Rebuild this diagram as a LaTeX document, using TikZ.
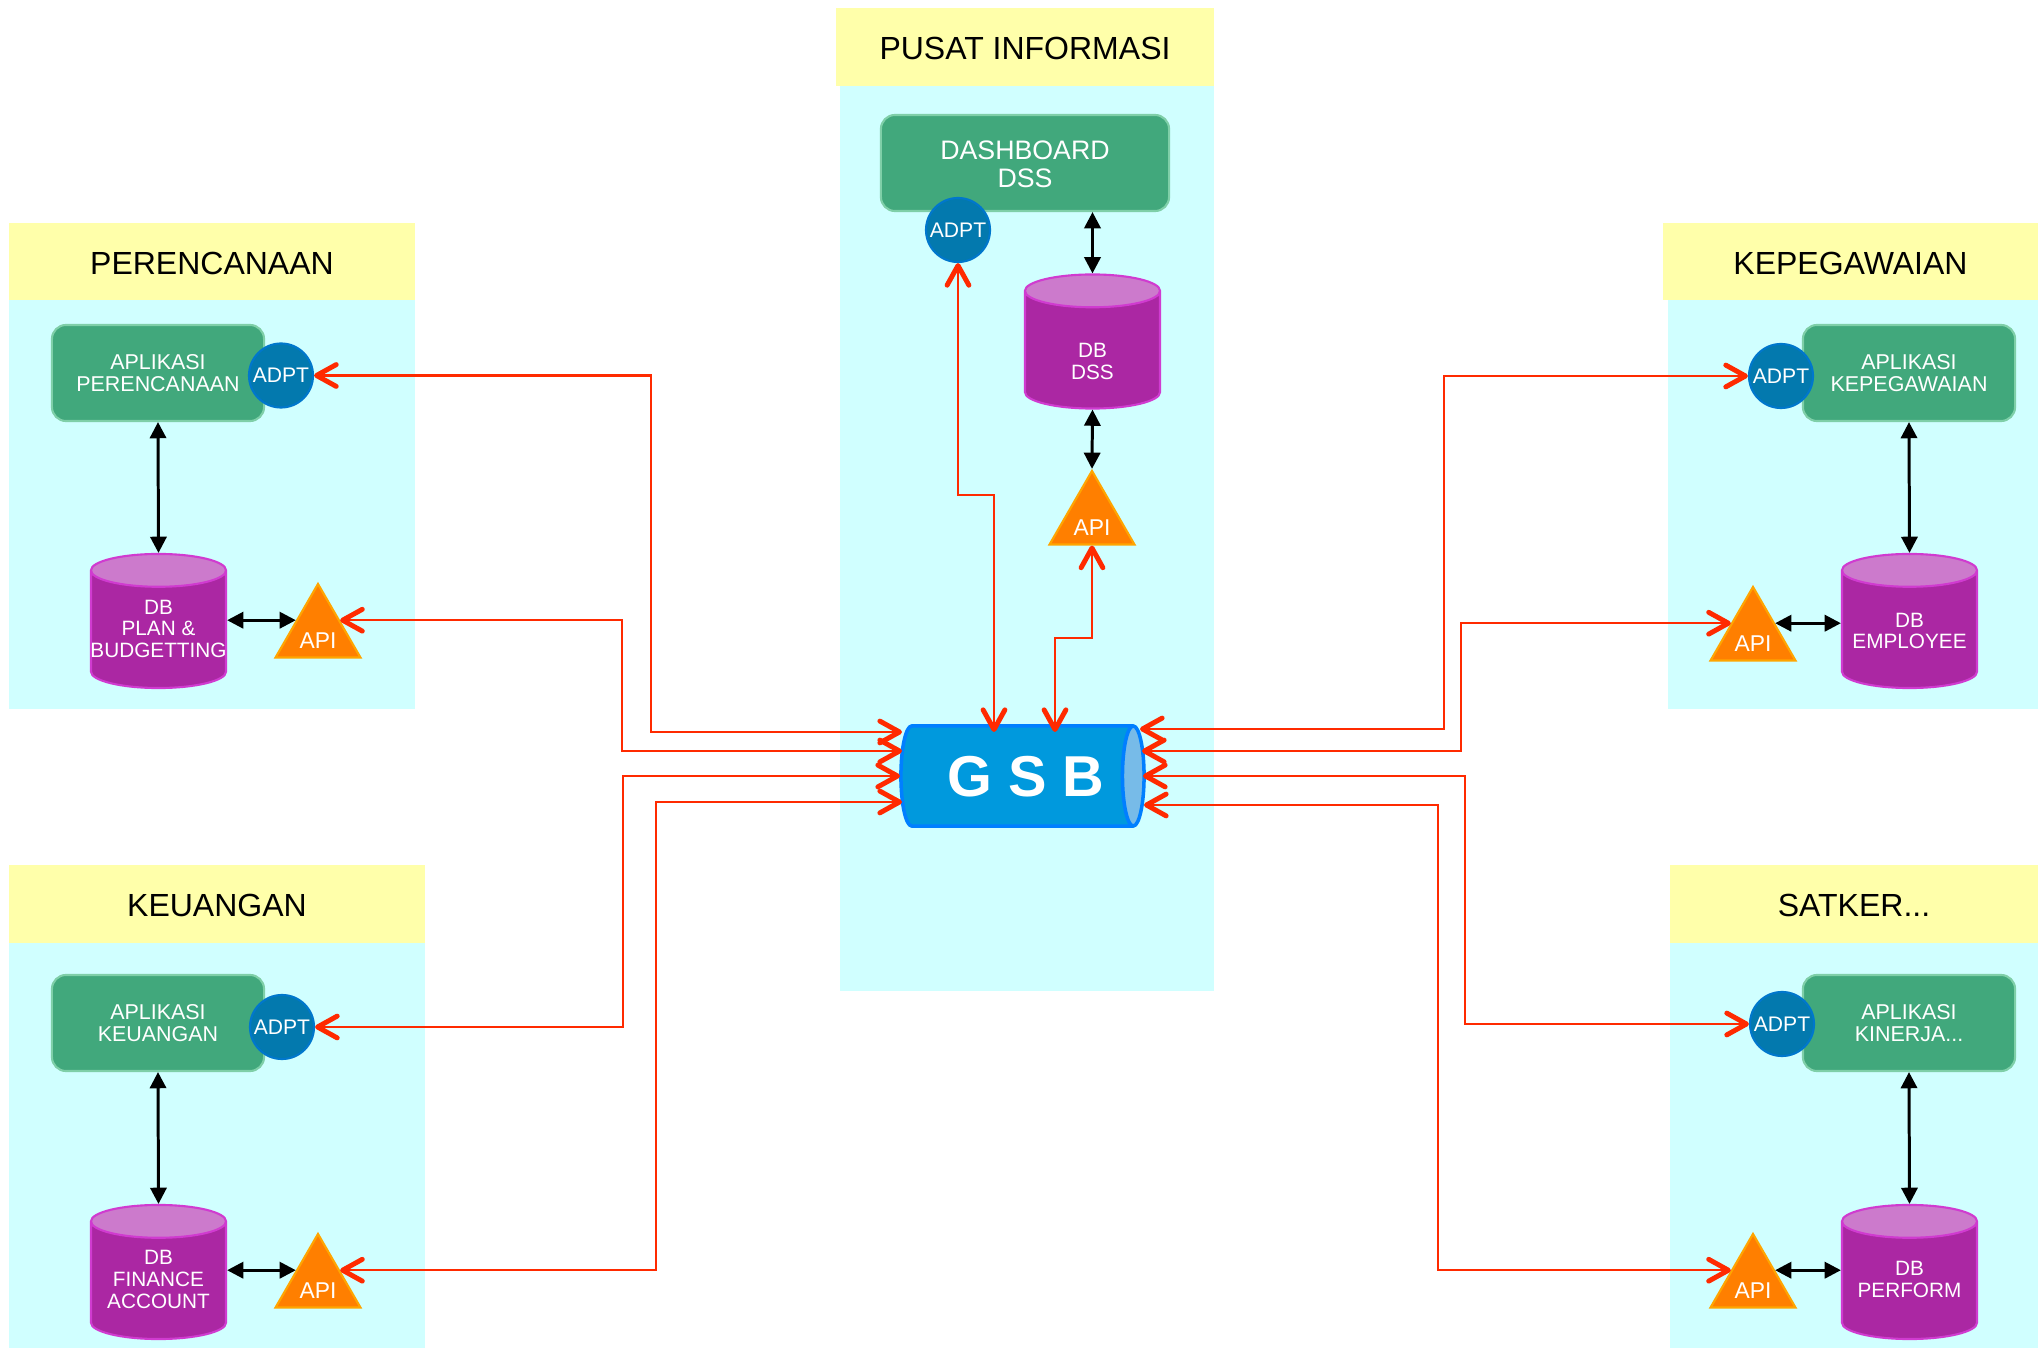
\documentclass[tikz,border=0pt]{standalone}
\usepackage{fontspec}
\setmainfont{Liberation Sans}
\usetikzlibrary{arrows.meta,shapes.geometric}
\definecolor{panelcyan}{HTML}{D0FFFF}
\definecolor{titleyellow}{HTML}{FFFFAA}
\definecolor{appgreen}{HTML}{41A87C}
\definecolor{appline}{HTML}{7FCFA8}
\definecolor{dbpurple}{HTML}{AB27A3}
\definecolor{dbline}{HTML}{D03BD0}
\definecolor{dbtop}{HTML}{CC7ACC}
\definecolor{adptblue}{HTML}{0379AE}
\definecolor{adptline}{HTML}{0077CC}
\definecolor{apiorange}{HTML}{FF7F00}
\definecolor{apiline}{HTML}{FFA500}
\definecolor{gsbblue}{HTML}{0099DD}
\definecolor{gsbline}{HTML}{007FFF}
\definecolor{gsbtop}{HTML}{77BBE8}
\definecolor{flowred}{HTML}{FF2A00}
\newcommand{\apilabel}{\makebox[0pt]{\raisebox{-4.35pt}[0pt][0pt]{API}}}
% the cylinder takes its radii from the box of its text, so every box is the same
\newcommand{\dblabel}[2]{\makebox[1.35cm]{\raisebox{#1}[0pt][0pt]{\begin{tabular}{@{}c@{}}#2\end{tabular}}}}
\tikzset{
	panel/.style={fill=panelcyan},
	titlebox/.style={fill=titleyellow,minimum height=0.77cm,inner sep=0pt,text height=7.3pt,text depth=0pt,font=\fontsize{9.1}{10}\selectfont},
	appbox/.style={draw=appline,line width=0.6pt,fill=appgreen,rounded corners=4pt,minimum width=2.12cm,minimum height=0.96cm,inner sep=0pt,align=center,text=white,font=\fontsize{6.1}{6.2}\selectfont},
	dbbox/.style={shape=cylinder,shape border rotate=90,shape aspect=0.243,anchor=shape center,draw=dbline,line width=0.6pt,cylinder uses custom fill,cylinder body fill=dbpurple,cylinder end fill=dbtop,minimum width=1.35cm,minimum height=1.34cm,inner sep=0pt,text=white,font=\fontsize{5.9}{6.2}\selectfont},
	adptbox/.style={shape=circle,draw=adptline,line width=0.6pt,fill=adptblue,minimum size=0.64cm,inner sep=0pt,text=white,font=\fontsize{6}{7}\selectfont},
	apibox/.style={shape=regular polygon,regular polygon sides=3,draw=apiline,line width=0.6pt,fill=apiorange,minimum size=0.98cm,inner sep=0pt,text=white,font=\fontsize{6.5}{7}\selectfont},
	gsbbox/.style={shape=cylinder,shape aspect=0.216,anchor=shape center,draw=gsbline,line width=1pt,cylinder uses custom fill,cylinder body fill=gsbblue,cylinder end fill=gsbtop,minimum width=1cm,minimum height=2.43cm,inner sep=0pt,text=white,font=\fontsize{16.4}{18}\bfseries\selectfont},
	link/.style={line width=0.85pt,{Triangle[length=4.6pt,width=4.6pt]}-{Triangle[length=4.6pt,width=4.6pt]}},
	flow/.style={draw=flowred,line width=0.7pt,{Straight Barb[length=5.6pt,width=6.2pt,line width=1.4pt,round]}-{Straight Barb[length=5.6pt,width=6.2pt,line width=1.4pt,round]}}
}
\begin{document}
\begin{tikzpicture}[x=0.01cm,y=-0.01cm]
	\useasboundingbox (0,0) rectangle (2038,1349);
	% panels
	\fill[panel] (9,299) rectangle (415,709);
	\fill[panel] (9,942) rectangle (425,1348);
	\fill[panel] (840,85) rectangle (1214,991);
	\fill[panel] (1668,299) rectangle (2038,709);
	\fill[panel] (1670,942) rectangle (2038,1348);
	\node[titlebox,minimum width=4.06cm] (titleplan) at (212,261.5) {PERENCANAAN};
	\node[titlebox,minimum width=4.16cm] (titlekeu) at (217,904) {KEUANGAN};
	\node[titlebox,minimum width=3.78cm] (titledss) at (1025,47) {PUSAT INFORMASI};
	\node[titlebox,minimum width=3.75cm] (titlepeg) at (1850.5,261.5) {KEPEGAWAIAN};
	\node[titlebox,minimum width=3.68cm] (titlesat) at (1854,904) {SATKER...};
	% applications
	\node[appbox] (appplan) at (158,373) {APLIKASI\\PERENCANAAN};
	\node[appbox] (appkeu) at (158,1023) {APLIKASI\\KEUANGAN};
	\node[appbox,minimum width=2.88cm,minimum height=0.96cm,font=\fontsize{7.6}{8}\selectfont] (appdss) at (1025,163) {\rule{0pt}{6.2pt}DASHBOARD\\DSS};
	\node[appbox] (apppeg) at (1909,373) {APLIKASI\\KEPEGAWAIAN};
	\node[appbox] (appsat) at (1909,1023) {APLIKASI\\KINERJA...};
	% databases
	\node[dbbox] (dbplan) at (158.5,621) {\dblabel{-2pt}{DB\\PLAN \&\\BUDGETTING}};
	\node[dbbox] (dbkeu) at (158.5,1272) {\dblabel{-1.85pt}{DB\\FINANCE\\ACCOUNT}};
	\node[dbbox] (dbdss) at (1092.5,341.5) {\dblabel{-5.4pt}{DB\\DSS}};
	\node[dbbox] (dbpeg) at (1909.5,621) {\dblabel{-2.6pt}{DB\\EMPLOYEE}};
	\node[dbbox] (dbsat) at (1909.5,1272) {\dblabel{-2pt}{DB\\PERFORM}};
	% adapters and apis
	\node[adptbox] (adptplan) at (281,375.5) {ADPT};
	\node[adptbox] (adptkeu) at (282,1027) {ADPT};
	\node[adptbox] (adptdss) at (958,230) {ADPT};
	\node[adptbox] (adptpeg) at (1781,376) {ADPT};
	\node[adptbox] (adptsat) at (1782,1024) {ADPT};
	\node[apibox] (apiplan) at (318,633) {\apilabel};
	\node[apibox] (apikeu) at (318,1283) {\apilabel};
	\node[apibox] (apidss) at (1092,520) {\apilabel};
	\node[apibox] (apipeg) at (1753,636) {\apilabel};
	\node[apibox] (apisat) at (1753,1283) {\apilabel};
	% bus
	\node[gsbbox] (gsb) at (1022.5,776) {\hspace*{5.6pt}\raisebox{-5.8pt}[0.5cm][0.5cm]{G S B}};
	\coordinate (gsbw1) at (902,732);
	\coordinate (gsbw2) at (902,751);
	\coordinate (gsbw3) at (900,776);
	\coordinate (gsbw4) at (902,802);
	\coordinate (gsbn1) at (994,732);
	\coordinate (gsbn2) at (1055,732);
	\coordinate (gsbe1) at (1140,729);
	\coordinate (gsbe2) at (1142,751);
	\coordinate (gsbe3) at (1143,776);
	\coordinate (gsbe4) at (1144,805);
	% black links
	\foreach \i in {plan,keu,peg,sat}
	{
		\draw[link] (app\i.south) -- (db\i.north);
	}
	\draw[link] (dbplan.east |- apiplan.side 1) -- (apiplan.side 1);
	\draw[link] (dbkeu.east |- apikeu.side 1) -- (apikeu.side 1);
	\draw[link] (dbpeg.west |- apipeg.side 3) -- (apipeg.side 3);
	\draw[link] (dbsat.west |- apisat.side 3) -- (apisat.side 3);
	\draw[link] (dbdss.north |- appdss.south) -- (dbdss.north);
	\draw[link] (dbdss.south) -- (apidss.north);
	% red links
	\draw[flow] (adptplan.east) -| (651,553) |- (gsbw1);
	\draw[flow] (apiplan.side 3) -| (622,700) |- (gsbw2);
	\draw[flow] (adptkeu.east) -| (623,900) |- (gsbw3);
	\draw[flow] (apikeu.side 3) -| (656,1000) |- (gsbw4);
	\draw[flow] (adptdss.south) |- (994,495) -- (gsbn1);
	\draw[flow] (apidss.side 2) |- (1055,638) -- (gsbn2);
	\draw[flow] (adptpeg.west) -| (1444,553) |- (gsbe1);
	\draw[flow] (apipeg.side 1) -| (1461,700) |- (gsbe2);
	\draw[flow] (adptsat.west) -| (1465,900) |- (gsbe3);
	\draw[flow] (apisat.side 1) -| (1438,1000) |- (gsbe4);
\end{tikzpicture}
\end{document}
